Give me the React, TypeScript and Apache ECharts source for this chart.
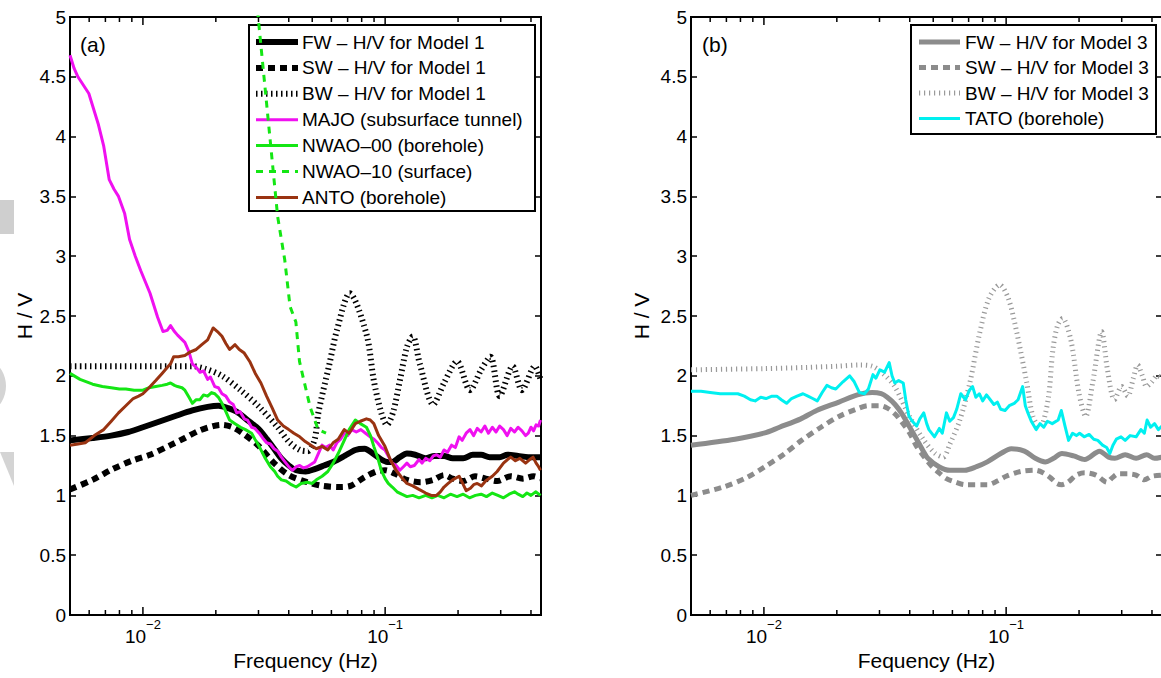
import React, { useEffect, useRef } from 'react';
import * as echarts from 'echarts';

const FONT = '"Liberation Sans", Arial, Helvetica, sans-serif';

// ---------- data: [frequency (Hz), H/V] ----------
const fwModel1 = [[0.005,1.46],[0.0062,1.48],[0.0074,1.5],[0.0087,1.53],[0.01,1.57],[0.0118,1.62],[0.0139,1.67],[0.016,1.71],[0.0185,1.74],[0.0205,1.75],[0.0225,1.73],[0.0244,1.70],[0.027,1.63],[0.0302,1.55],[0.0325,1.47],[0.0348,1.39],[0.0372,1.31],[0.04,1.25],[0.0429,1.21],[0.047,1.2],[0.0512,1.22],[0.056,1.25],[0.061,1.28],[0.068,1.33],[0.0753,1.38],[0.0823,1.39],[0.089,1.35],[0.0964,1.30],[0.102,1.28],[0.107,1.28],[0.115,1.32],[0.123,1.35],[0.133,1.34],[0.147,1.31],[0.16,1.33],[0.175,1.33],[0.19,1.31],[0.21,1.31],[0.23,1.34],[0.249,1.34],[0.27,1.32],[0.297,1.32],[0.32,1.34],[0.354,1.33],[0.39,1.32],[0.438,1.32]];
const swModel1 = [[0.005,1.05],[0.0062,1.13],[0.0075,1.22],[0.009,1.29],[0.0107,1.34],[0.013,1.42],[0.0149,1.48],[0.017,1.54],[0.0195,1.58],[0.0212,1.59],[0.0235,1.57],[0.0262,1.51],[0.0302,1.41],[0.0348,1.27],[0.04,1.17],[0.0477,1.11],[0.055,1.08],[0.065,1.07],[0.072,1.08],[0.082,1.15],[0.092,1.2],[0.1,1.21],[0.11,1.18],[0.123,1.13],[0.14,1.11],[0.158,1.13],[0.175,1.17],[0.19,1.14],[0.21,1.12],[0.235,1.16],[0.26,1.14],[0.29,1.12],[0.33,1.16],[0.37,1.14],[0.41,1.16],[0.438,1.14]];
const bwModel1 = [[0.005,2.08],[0.008,2.08],[0.012,2.08],[0.016,2.08],[0.018,2.06],[0.0212,2.0],[0.0253,1.88],[0.0302,1.74],[0.036,1.57],[0.04,1.45],[0.0444,1.38],[0.048,1.37],[0.0512,1.47],[0.053,1.69],[0.0589,2.10],[0.0632,2.38],[0.0714,2.69],[0.0837,2.35],[0.0898,1.96],[0.0964,1.69],[0.1016,1.59],[0.108,1.70],[0.115,1.96],[0.123,2.24],[0.130,2.33],[0.139,2.10],[0.158,1.76],[0.175,1.94],[0.198,2.12],[0.224,1.88],[0.249,2.05],[0.272,2.16],[0.297,1.83],[0.336,2.08],[0.367,1.88],[0.415,2.08],[0.438,1.97]];
const majo = [[0.005,4.68],[0.0052,4.57],[0.00539,4.5],[0.00598,4.36],[0.00653,4.11],[0.00689,3.92],[0.00726,3.64],[0.0076,3.56],[0.00793,3.5],[0.0084,3.36],[0.00881,3.14],[0.0093,3.0],[0.00979,2.88],[0.0107,2.69],[0.0115,2.49],[0.0121,2.37],[0.0126,2.38],[0.013,2.42],[0.0135,2.37],[0.0139,2.34],[0.0149,2.28],[0.0155,2.2],[0.016,2.1],[0.0166,2.07],[0.0172,2.03],[0.0178,2.04],[0.0185,1.97],[0.019,1.99],[0.0198,1.91],[0.0205,1.9],[0.0212,1.85],[0.022,1.83],[0.0228,1.78],[0.0236,1.76],[0.0244,1.69],[0.0252,1.7],[0.0262,1.64],[0.027,1.63],[0.0281,1.57],[0.029,1.56],[0.0302,1.52],[0.0312,1.48],[0.0324,1.44],[0.0336,1.43],[0.0348,1.39],[0.036,1.37],[0.0373,1.32],[0.0386,1.28],[0.04,1.24],[0.0414,1.21],[0.043,1.24],[0.0444,1.25],[0.046,1.23],[0.0477,1.24],[0.0495,1.26],[0.0512,1.28],[0.053,1.35],[0.0549,1.42],[0.0568,1.4],[0.0589,1.42],[0.061,1.38],[0.0632,1.44],[0.0655,1.47],[0.0678,1.52],[0.07,1.5],[0.0727,1.55],[0.076,1.53],[0.0794,1.55],[0.083,1.52],[0.0867,1.49],[0.09,1.47],[0.093,1.44],[0.0965,1.4],[0.0998,1.38],[0.103,1.33],[0.107,1.27],[0.111,1.25],[0.115,1.21],[0.119,1.24],[0.123,1.27],[0.127,1.24],[0.132,1.25],[0.138,1.3],[0.142,1.27],[0.147,1.31],[0.153,1.29],[0.158,1.33],[0.163,1.34],[0.169,1.32],[0.175,1.38],[0.181,1.36],[0.188,1.42],[0.195,1.4],[0.202,1.49],[0.208,1.46],[0.216,1.52],[0.224,1.55],[0.232,1.5],[0.24,1.56],[0.249,1.53],[0.258,1.58],[0.267,1.52],[0.277,1.57],[0.287,1.53],[0.297,1.58],[0.308,1.55],[0.319,1.5],[0.33,1.56],[0.342,1.53],[0.354,1.57],[0.367,1.54],[0.38,1.5],[0.39,1.52],[0.4,1.57],[0.41,1.54],[0.42,1.59],[0.43,1.58],[0.438,1.63]];
const nwao00 = [[0.005,2.02],[0.0055,1.97],[0.0062,1.93],[0.0068,1.91],[0.0074,1.9],[0.008,1.89],[0.0085,1.89],[0.0092,1.88],[0.01,1.88],[0.0106,1.9],[0.0113,1.91],[0.012,1.92],[0.0126,1.93],[0.013,1.94],[0.0135,1.92],[0.0139,1.91],[0.0145,1.9],[0.0149,1.88],[0.0155,1.82],[0.016,1.77],[0.0166,1.8],[0.0172,1.8],[0.0178,1.84],[0.0185,1.83],[0.0192,1.86],[0.0198,1.85],[0.0205,1.82],[0.0212,1.77],[0.022,1.7],[0.0228,1.63],[0.024,1.6],[0.0253,1.57],[0.0265,1.55],[0.0281,1.52],[0.029,1.47],[0.0302,1.41],[0.0318,1.32],[0.0336,1.24],[0.035,1.2],[0.036,1.16],[0.0373,1.13],[0.039,1.12],[0.041,1.09],[0.0429,1.07],[0.045,1.1],[0.0477,1.11],[0.05,1.1],[0.052,1.13],[0.0549,1.16],[0.058,1.2],[0.061,1.27],[0.064,1.35],[0.0678,1.46],[0.071,1.55],[0.0753,1.63],[0.079,1.6],[0.0837,1.57],[0.087,1.5],[0.0898,1.41],[0.093,1.32],[0.0964,1.21],[0.1,1.14],[0.103,1.1],[0.107,1.07],[0.112,1.03],[0.117,1.01],[0.123,0.99],[0.13,1.0],[0.138,0.98],[0.147,1.0],[0.156,0.98],[0.165,1.0],[0.175,0.98],[0.186,1.01],[0.198,0.99],[0.21,1.01],[0.223,0.98],[0.236,1.0],[0.249,1.01],[0.262,0.99],[0.277,1.02],[0.292,1.0],[0.308,0.98],[0.325,1.01],[0.342,1.03],[0.354,1.01],[0.37,0.99],[0.385,1.02],[0.4,1.0],[0.418,1.03],[0.438,1.0]];
const nwao10 = [[0.0285,5.6],[0.0299,5.0],[0.036,3.33],[0.0385,2.97],[0.0405,2.58],[0.0428,2.45],[0.0443,2.12],[0.0462,1.96],[0.049,1.74],[0.0529,1.55],[0.057,1.52]];
const anto = [[0.005,1.42],[0.0054,1.43],[0.00578,1.44],[0.0063,1.5],[0.00689,1.55],[0.0074,1.62],[0.00793,1.69],[0.0085,1.75],[0.00912,1.81],[0.0096,1.83],[0.01,1.85],[0.0106,1.9],[0.0113,1.96],[0.012,2.02],[0.0126,2.07],[0.013,2.1],[0.0134,2.16],[0.014,2.16],[0.0149,2.17],[0.0157,2.2],[0.0166,2.22],[0.0175,2.26],[0.0185,2.3],[0.019,2.35],[0.0195,2.4],[0.0203,2.37],[0.0212,2.33],[0.022,2.27],[0.0228,2.22],[0.0234,2.24],[0.024,2.26],[0.025,2.22],[0.0262,2.19],[0.0276,2.12],[0.0291,2.02],[0.0307,1.94],[0.0324,1.83],[0.0342,1.73],[0.036,1.63],[0.038,1.58],[0.04,1.55],[0.042,1.52],[0.0444,1.49],[0.0468,1.45],[0.0494,1.42],[0.052,1.39],[0.0549,1.41],[0.058,1.38],[0.061,1.44],[0.064,1.47],[0.0678,1.55],[0.071,1.52],[0.0753,1.6],[0.079,1.62],[0.0837,1.64],[0.0868,1.63],[0.0898,1.6],[0.094,1.5],[0.0998,1.41],[0.105,1.3],[0.111,1.21],[0.117,1.15],[0.123,1.1],[0.13,1.08],[0.138,1.05],[0.147,1.02],[0.155,1.0],[0.163,1.0],[0.169,1.03],[0.175,1.07],[0.182,1.1],[0.19,1.13],[0.202,1.16],[0.209,1.1],[0.216,1.04],[0.225,1.06],[0.232,1.09],[0.24,1.1],[0.25,1.08],[0.26,1.12],[0.277,1.16],[0.29,1.2],[0.308,1.27],[0.32,1.3],[0.33,1.32],[0.345,1.29],[0.36,1.31],[0.38,1.27],[0.395,1.3],[0.408,1.32],[0.42,1.27],[0.43,1.24],[0.438,1.21]];

const fwModel3 = [[0.005,1.42],[0.0076,1.47],[0.01,1.52],[0.0116,1.57],[0.0142,1.64],[0.0165,1.71],[0.0204,1.78],[0.0243,1.84],[0.028,1.86],[0.0305,1.85],[0.0323,1.82],[0.0348,1.76],[0.0372,1.68],[0.04,1.57],[0.0427,1.47],[0.0455,1.37],[0.0475,1.31],[0.0528,1.24],[0.0586,1.21],[0.0675,1.21],[0.0755,1.24],[0.0836,1.28],[0.095,1.35],[0.105,1.39],[0.119,1.37],[0.132,1.31],[0.145,1.28],[0.157,1.31],[0.17,1.35],[0.19,1.33],[0.211,1.30],[0.243,1.37],[0.265,1.32],[0.281,1.31],[0.31,1.34],[0.344,1.31],[0.38,1.34],[0.41,1.31],[0.44,1.32]];
const swModel3 = [[0.005,1.0],[0.0068,1.07],[0.0085,1.15],[0.0101,1.24],[0.0122,1.35],[0.0143,1.46],[0.0172,1.57],[0.0204,1.66],[0.024,1.72],[0.027,1.75],[0.03,1.75],[0.0323,1.73],[0.0348,1.68],[0.0372,1.61],[0.04,1.52],[0.0427,1.41],[0.046,1.32],[0.049,1.25],[0.0527,1.19],[0.0567,1.14],[0.062,1.11],[0.0675,1.09],[0.0836,1.09],[0.092,1.12],[0.1,1.16],[0.115,1.2],[0.132,1.21],[0.142,1.19],[0.152,1.15],[0.162,1.1],[0.17,1.09],[0.18,1.11],[0.195,1.17],[0.211,1.19],[0.235,1.17],[0.25,1.13],[0.26,1.11],[0.275,1.15],[0.29,1.18],[0.32,1.18],[0.344,1.17],[0.372,1.13],[0.40,1.16],[0.44,1.17]];
const bwModel3 = [[0.005,2.05],[0.01,2.06],[0.015,2.07],[0.02,2.08],[0.025,2.09],[0.028,2.08],[0.031,2.02],[0.0347,1.91],[0.0399,1.66],[0.0458,1.46],[0.051,1.35],[0.055,1.32],[0.0586,1.43],[0.0644,1.63],[0.0708,1.94],[0.0778,2.36],[0.085,2.65],[0.094,2.76],[0.102,2.65],[0.1107,2.36],[0.1217,1.94],[0.129,1.66],[0.138,1.57],[0.149,1.8],[0.156,2.22],[0.163,2.42],[0.171,2.48],[0.185,2.3],[0.2,1.85],[0.213,1.66],[0.228,1.95],[0.248,2.37],[0.262,2.05],[0.28,1.8],[0.3,1.91],[0.318,1.83],[0.335,1.98],[0.349,2.09],[0.365,2.0],[0.38,1.91],[0.4,1.95],[0.42,2.0],[0.44,1.98]];
const tato = [[0.005,1.87],[0.0055,1.87],[0.006,1.86],[0.0066,1.85],[0.0072,1.85],[0.0078,1.85],[0.0083,1.83],[0.0088,1.8],[0.0092,1.79],[0.0097,1.82],[0.0102,1.81],[0.0108,1.83],[0.0113,1.83],[0.0118,1.8],[0.0124,1.77],[0.013,1.81],[0.0137,1.83],[0.0145,1.85],[0.0152,1.83],[0.0159,1.81],[0.0166,1.79],[0.0174,1.86],[0.0182,1.92],[0.019,1.9],[0.0198,1.89],[0.0212,1.95],[0.0226,2.0],[0.0236,1.95],[0.0248,1.86],[0.026,1.85],[0.027,1.89],[0.0282,2.01],[0.029,1.98],[0.0301,2.05],[0.0315,2.03],[0.0329,2.11],[0.0338,2.0],[0.0347,1.94],[0.036,1.96],[0.0376,1.94],[0.0385,1.8],[0.0397,1.66],[0.041,1.62],[0.0427,1.58],[0.044,1.64],[0.0457,1.69],[0.047,1.6],[0.048,1.55],[0.0506,1.49],[0.053,1.56],[0.0545,1.52],[0.0567,1.69],[0.0585,1.62],[0.0606,1.65],[0.0625,1.72],[0.065,1.85],[0.068,1.8],[0.0705,1.88],[0.0727,1.91],[0.075,1.82],[0.0775,1.85],[0.08,1.79],[0.083,1.84],[0.086,1.8],[0.089,1.76],[0.092,1.78],[0.095,1.72],[0.099,1.71],[0.103,1.75],[0.108,1.77],[0.112,1.8],[0.117,1.91],[0.12,1.75],[0.123,1.69],[0.127,1.62],[0.133,1.55],[0.138,1.6],[0.143,1.57],[0.148,1.62],[0.155,1.6],[0.164,1.63],[0.169,1.71],[0.175,1.58],[0.181,1.46],[0.188,1.52],[0.195,1.5],[0.201,1.52],[0.21,1.49],[0.22,1.51],[0.23,1.47],[0.239,1.46],[0.25,1.42],[0.26,1.4],[0.268,1.35],[0.276,1.42],[0.285,1.47],[0.298,1.49],[0.31,1.46],[0.325,1.5],[0.344,1.49],[0.36,1.55],[0.372,1.52],[0.382,1.63],[0.395,1.57],[0.41,1.6],[0.425,1.55],[0.44,1.58]];

// ---------- axes / ticks ----------
const freqMin = 0.005;
const freqMax = 0.44;
const hvMin = 0;
const hvMax = 5;
const hvStep = 0.5;
const majorTickFreqs = [0.01, 0.1];
const minorTickFreqs = [0.006, 0.007, 0.008, 0.009, 0.02, 0.03, 0.04, 0.05, 0.06, 0.07, 0.08, 0.09, 0.2, 0.3, 0.4];

const legendA = [
  { name: 'FW – H/V for Model 1', color: '#000000', width: 6, dash: null },
  { name: 'SW – H/V for Model 1', color: '#000000', width: 6, dash: [7, 5] },
  { name: 'BW – H/V for Model 1', color: '#000000', width: 6, dash: [1.5, 3.5] },
  { name: 'MAJO (subsurface tunnel)', color: '#f010f0', width: 3, dash: null },
  { name: 'NWAO–00 (borehole)', color: '#14e614', width: 3, dash: null },
  { name: 'NWAO–10 (surface)', color: '#14e614', width: 3, dash: [7, 6] },
  { name: 'ANTO (borehole)', color: '#993311', width: 3, dash: null },
];
const legendB = [
  { name: 'FW – H/V for Model 3', color: '#8c8c8c', width: 5, dash: null },
  { name: 'SW – H/V for Model 3', color: '#8c8c8c', width: 5, dash: [7, 5] },
  { name: 'BW – H/V for Model 3', color: '#9a9a9a', width: 5, dash: [1.2, 3.8] },
  { name: 'TATO (borehole)', color: '#00f0f0', width: 3, dash: null },
];
const seriesA = [fwModel1, swModel1, bwModel1, majo, nwao00, nwao10, anto];
const seriesB = [fwModel3, swModel3, bwModel3, tato];

function tickLabel(v: number) {
  const l = Math.log10(v);
  const r = Math.round(l);
  if (Math.abs(l - r) > 1e-6) return '';
  return '{b|10}{s|' + (r < 0 ? '\u2212' + Math.abs(r) : String(r)) + '}';
}

function buildLegend(items: any[], box: any) {
  const children: any[] = [
    { type: 'rect', shape: { x: box.x, y: box.y, width: box.w, height: box.h }, style: { fill: '#ffffff', stroke: '#000000', lineWidth: 2 } },
  ];
  items.forEach((it, i) => {
    const cy = box.firstRow + i * box.rowGap;
    children.push({
      type: 'line',
      shape: { x1: box.lineX1, y1: cy, x2: box.lineX2, y2: cy },
      style: { stroke: it.color, lineWidth: it.width, lineDash: it.dash || null, lineCap: 'butt' },
    });
    children.push({
      type: 'text',
      x: box.textX,
      y: cy,
      style: { text: it.name, fontSize: 19, fontFamily: FONT, fill: '#000000', align: 'left', verticalAlign: 'middle' },
    });
  });
  return { type: 'group', z: 100, children };
}

function buildOption() {
  const grids = [
    { left: 70, top: 17, width: 471, height: 598 },
    { left: 691, top: 17, width: 471, height: 598 },
  ];
  const xNames = ['Frequency (Hz)', 'Fequency (Hz)'];
  const yNameGaps = [35, 39];

  const xAxis = grids.map((_, i) => ({
    type: 'log', logBase: 10, gridIndex: i, min: freqMin, max: freqMax, position: 'bottom',
    axisLine: { show: false }, axisTick: { show: false }, splitLine: { show: false }, minorTick: { show: false },
    axisLabel: {
      formatter: tickLabel, margin: 11, color: '#000', showMinLabel: false, showMaxLabel: false,
      rich: {
        b: { fontSize: 19, lineHeight: 20, fontFamily: FONT, color: '#000' },
        s: { fontSize: 13, lineHeight: 13, fontFamily: FONT, color: '#000', padding: [0, 0, 24, 0] },
      },
    },
    name: xNames[i], nameLocation: 'middle', nameGap: 35, nameMoveOverlap: false,
    nameTextStyle: { fontSize: 21, fontFamily: FONT, color: '#000' },
  }));

  const yAxis: any[] = [];
  grids.forEach((_, i) => {
    const common = {
      type: 'value', gridIndex: i, min: hvMin, max: hvMax, interval: hvStep,
      axisLine: { show: false }, splitLine: { show: false },
      axisTick: { show: true, inside: true, length: 6, lineStyle: { color: '#000', width: 1.5 } },
    };
    yAxis.push({
      ...common, position: 'left',
      axisLabel: { fontSize: 19, fontFamily: FONT, color: '#000', margin: 4 },
      name: 'H / V', nameLocation: 'middle', nameGap: yNameGaps[i], nameRotate: 90, nameMoveOverlap: false,
      nameTextStyle: { fontSize: 21, fontFamily: FONT, color: '#000' },
    });
    yAxis.push({ ...common, position: 'right', axisLabel: { show: false } });
  });

  const series: any[] = [];
  const addSeries = (items: any[], datas: any[], gi: number) => {
    items.forEach((it, k) => {
      series.push({
        type: 'line', name: it.name, data: datas[k], xAxisIndex: gi, yAxisIndex: gi * 2,
        symbol: 'none', showSymbol: false, silent: true, clip: true,
        smooth: k < 3 ? 0.3 : false, z: 2 + k,
        lineStyle: { color: it.color, width: it.width, type: it.dash || 'solid', cap: 'butt', join: 'round' },
      });
    });
  };
  addSeries(legendA, seriesA, 0);
  addSeries(legendB, seriesB, 1);

  const tickData = [
    ...majorTickFreqs.map((f) => [f, 1]),
    ...minorTickFreqs.map((f) => [f, 0]),
  ];
  grids.forEach((_, gi) => {
    series.push({
      type: 'custom', xAxisIndex: gi, yAxisIndex: gi * 2, silent: true, z: 20,
      data: tickData,
      encode: { x: 0, y: 1 },
      renderItem: (params: any, api: any) => {
        const f = api.value(0);
        const major = api.value(1) === 1;
        const b = api.coord([f, hvMin]);
        const t = api.coord([f, hvMax]);
        const len = major ? 8 : 5;
        const st = { stroke: '#000', lineWidth: 1.5 };
        return {
          type: 'group',
          children: [
            { type: 'line', shape: { x1: b[0], y1: b[1], x2: b[0], y2: b[1] - len }, style: st },
            { type: 'line', shape: { x1: t[0], y1: t[1], x2: t[0], y2: t[1] + len }, style: st },
          ],
        };
      },
    });
  });

  const graphic: any[] = [
    buildLegend(legendA, { x: 249, y: 25, w: 286, h: 186, firstRow: 42, rowGap: 25.9, lineX1: 256, lineX2: 298, textX: 302 }),
    buildLegend(legendB, { x: 911, y: 25, w: 245, h: 109, firstRow: 42, rowGap: 25.5, lineX1: 919, lineX2: 960, textX: 965 }),
    { type: 'text', x: 80, y: 44, z: 100, style: { text: '(a)', fontSize: 21, fontFamily: FONT, fill: '#000', verticalAlign: 'middle' } },
    { type: 'text', x: 702, y: 44, z: 100, style: { text: '(b)', fontSize: 21, fontFamily: FONT, fill: '#000', verticalAlign: 'middle' } },
    // faint watermark fragments on the left edge
    { type: 'rect', z: 0, shape: { x: 0, y: 200, width: 14, height: 34 }, style: { fill: '#cfcfcf' } },
    { type: 'circle', z: 0, shape: { cx: -25, cy: 386, r: 31 }, style: { fill: '#d4d4d4' } },
    { type: 'polygon', z: 0, shape: { points: [[0, 452], [14, 452], [14, 486]] }, style: { fill: '#d4d4d4' } },
  ];

  return {
    animation: false,
    backgroundColor: '#ffffff',
    textStyle: { fontFamily: FONT, color: '#000' },
    grid: grids.map((g) => ({
      ...g, show: true, borderColor: '#000', borderWidth: 2, backgroundColor: 'transparent',
      containLabel: false, outerBoundsMode: 'none',
    })),
    xAxis,
    yAxis,
    series,
    graphic,
  };
}

export default function App() {
  const ref = useRef<HTMLDivElement>(null);
  useEffect(() => {
    if (!ref.current) return;
    const chart = echarts.init(ref.current, null, { renderer: 'svg' });
    chart.setOption(buildOption() as any);
    return () => chart.dispose();
  }, []);
  return (
    <div
      ref={ref}
      style={{ position: 'fixed', left: 0, top: 0, width: 1161, height: 678, background: '#fff' }}
    />
  );
}
